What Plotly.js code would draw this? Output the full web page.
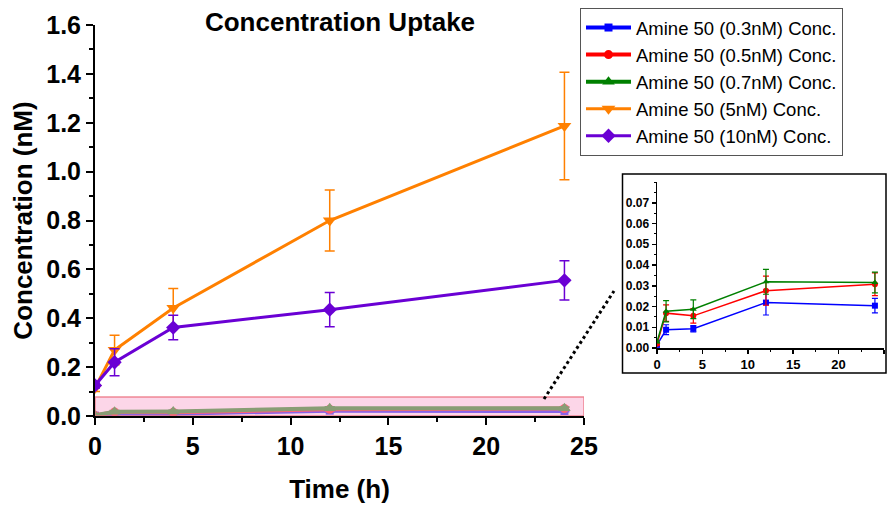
<!DOCTYPE html>
<html><head><meta charset="utf-8">
<script src="https://cdn.plot.ly/plotly-3.0.1.min.js"></script>
<style>html,body{margin:0;padding:0;background:#fff}#chart{width:888px;height:506px}</style>
</head><body><div id="chart"></div>
<script>
const time = [0, 1, 4, 12, 24];
const seriesNames = ['Amine 50 (0.3nM) Conc.', 'Amine 50 (0.5nM) Conc.', 'Amine 50 (0.7nM) Conc.', 'Amine 50 (5nM) Conc.', 'Amine 50 (10nM) Conc.'];
const c03 = [0.0015, 0.0088, 0.0093, 0.0219, 0.0204];
const c03err = [0.0005, 0.0024, 0.0015, 0.006, 0.0035];
const c05 = [0.002, 0.0168, 0.0155, 0.0276, 0.0307];
const c05err = [0.0005, 0.004, 0.0035, 0.007, 0.0055];
const c07 = [0.003, 0.0177, 0.0187, 0.0319, 0.0316];
const c07err = [0.0005, 0.0051, 0.0045, 0.006, 0.005];
const c5 = [0.115, 0.27, 0.442, 0.80, 1.187];
const c5err = [0.015, 0.06, 0.08, 0.125, 0.22];
const c10 = [0.125, 0.22, 0.362, 0.435, 0.555];
const c10err = [0.01, 0.055, 0.05, 0.07, 0.08];

const FONT = 'Arial, "Liberation Sans", sans-serif';
const colors = ['#0000ff', '#ff0000', '#008000', '#ff8000', '#6a00d4'];
const symbols = ['square', 'circle', 'triangle-up', 'triangle-down', 'diamond'];
const msize = [8, 9, 11, 12, 11];
const lw = [4, 4, 4, 3, 3];
const vals = [c03, c05, c07, c5, c10];
const errs = [c03err, c05err, c07err, c5err, c10err];

const traces = [];
for (let i = 0; i < 5; i++) {
  traces.push({
    x: time, y: vals[i], type: 'scatter', mode: 'lines+markers', name: seriesNames[i],
    line: {color: colors[i], width: lw[i]},
    marker: {color: colors[i], symbol: symbols[i], size: msize[i]},
    error_y: {type: 'data', array: errs[i], visible: true, color: colors[i], thickness: 1.5, width: 5},
    xaxis: 'x', yaxis: 'y', showlegend: true
  });
}
for (let i = 0; i < 3; i++) {
  traces.push({
    x: time, y: vals[i], type: 'scatter', mode: 'lines+markers', name: seriesNames[i],
    line: {color: colors[i], width: 1.5},
    marker: {color: colors[i], symbol: symbols[i], size: 6},
    error_y: {type: 'data', array: errs[i], visible: true, color: colors[i], thickness: 1.2, width: 3},
    xaxis: 'x2', yaxis: 'y2', showlegend: false
  });
}

const W = 888, H = 506, ML = 95, MR = 3, MT = 25, MB = 90;
const PW = W - ML - MR, PH = H - MT - MB;
const px = v => (v - ML) / PW;
const py = v => (H - MB - v) / PH;

const layout = {
  width: W, height: H,
  margin: {l: ML, r: MR, t: MT, b: MB},
  paper_bgcolor: '#fff', plot_bgcolor: 'rgba(0,0,0,0)',
  font: {family: FONT, color: '#000'},
  title: {text: 'Concentration Uptake', font: {family: FONT, size: 26, weight: 'bold', color: '#000'},
          x: px(340), xref: 'paper', xanchor: 'center', y: 1 - 22 / H, yanchor: 'middle'},
  xaxis: {domain: [0, px(584)], range: [0, 25], showline: true, linewidth: 2, linecolor: '#000', mirror: false,
          ticks: 'outside', ticklen: 7, tickwidth: 2, tickcolor: '#000', dtick: 5, tick0: 0,
          minor: {ticks: 'outside', ticklen: 4, tickwidth: 2, tickcolor: '#000', dtick: 2.5, showgrid: false},
          showgrid: false, zeroline: false,
          tickfont: {family: FONT, size: 25, weight: 'bold', color: '#000'},
          title: {text: 'Time (h)', font: {family: FONT, size: 26, weight: 'bold', color: '#000'}, standoff: 21}},
  yaxis: {domain: [0, 1], range: [0, 1.6], showline: true, linewidth: 2, linecolor: '#000',
          ticks: 'outside', ticklen: 7, tickwidth: 2, tickcolor: '#000', dtick: 0.2, tick0: 0, tickformat: '.1f',
          minor: {ticks: 'outside', ticklen: 4, tickwidth: 2, tickcolor: '#000', dtick: 0.1, showgrid: false},
          showgrid: false, zeroline: false,
          tickfont: {family: FONT, size: 25, weight: 'bold', color: '#000'},
          title: {text: 'Concentration (nM)', font: {family: FONT, size: 26, weight: 'bold', color: '#000'}, standoff: 6}},
  xaxis2: {domain: [px(657), px(884)], range: [0, 25], anchor: 'y2', showline: true, linewidth: 1.5, linecolor: '#000',
           ticks: 'outside', ticklen: 4, tickwidth: 1.5, tickcolor: '#000', dtick: 5, tick0: 0,
           minor: {ticks: 'outside', ticklen: 2, tickwidth: 1, tickcolor: '#000', dtick: 2.5, showgrid: false},
           showgrid: false, zeroline: false,
           tickfont: {family: FONT, size: 13, weight: 'bold', color: '#000'}},
  yaxis2: {domain: [py(348), py(182)], range: [0, 0.08], anchor: 'x2', showline: true, linewidth: 1.5, linecolor: '#000',
           ticks: 'outside', ticklen: 4, tickwidth: 1.5, tickcolor: '#000', dtick: 0.01, tick0: 0, tickformat: '.2f',
           minor: {ticks: 'outside', ticklen: 2, tickwidth: 1, tickcolor: '#000', dtick: 0.005, showgrid: false},
           showgrid: false, zeroline: false,
           tickvals: [0, 0.01, 0.02, 0.03, 0.04, 0.05, 0.06, 0.07],
           tickfont: {family: FONT, size: 12, weight: 'bold', color: '#000'}},
  legend: {x: px(580), y: py(8), xanchor: 'left', yanchor: 'top', xref: 'paper', yref: 'paper',
           bgcolor: '#fff', bordercolor: '#555', borderwidth: 1, itemwidth: 45,
           font: {family: FONT, size: 18.5, color: '#000'}, tracegroupgap: 0},
  shapes: [
    {type: 'rect', xref: 'x', yref: 'y', x0: 0, x1: 25, y0: 0, y1: 0.078, layer: 'above',
     fillcolor: 'rgba(250,180,213,0.55)', line: {color: 'rgba(235,110,125,0.8)', width: 1.5}},
    {type: 'rect', xref: 'paper', yref: 'paper', x0: px(622.5), x1: px(886), y0: py(373), y1: py(174),
     fillcolor: 'rgba(0,0,0,0)', line: {color: '#000', width: 1.5}, layer: 'above'},
    {type: 'line', xref: 'paper', yref: 'paper', x0: px(544), y0: py(399), x1: px(614), y1: py(291),
     line: {color: '#000', width: 3, dash: 'dot'}}
  ]
};

Plotly.newPlot('chart', traces, layout, {displayModeBar: false, staticPlot: true});
</script>
</body></html>
